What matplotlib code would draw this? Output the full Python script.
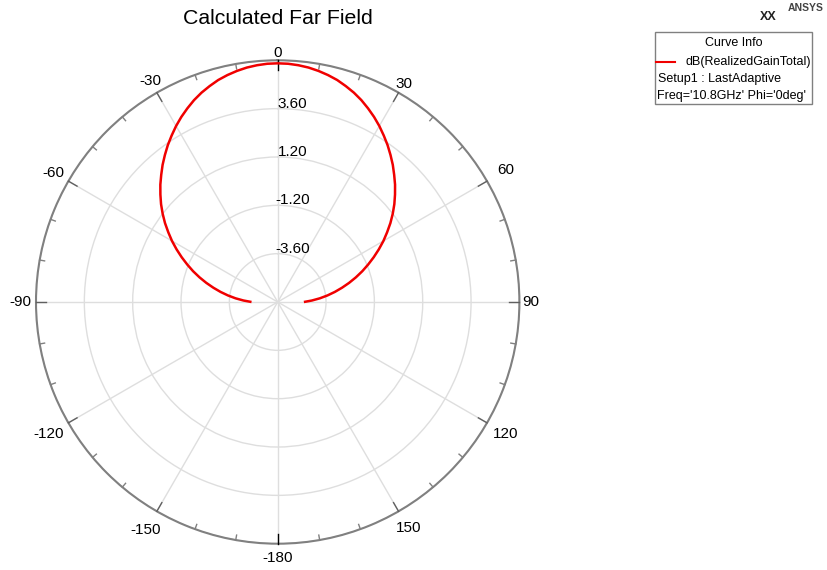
import numpy as np
import matplotlib.pyplot as plt
from matplotlib.patches import Rectangle
from matplotlib.lines import Line2D

plt.rcParams['font.family'] = ['Liberation Sans', 'DejaVu Sans']

# Elevation cut of the realized gain (dB), Phi = 0 deg, 2.5 deg steps
theta_half = [0, 2.5, 5, 7.5, 10, 12.5, 15, 17.5, 20, 22.5, 25, 27.5, 30,
              32.5, 35, 37.5, 40, 42.5, 45, 47.5, 50, 52.5, 55, 57.5, 60,
              62.5, 65, 67.5, 70, 72.5, 75, 77.5, 80, 82.5, 85, 87.5, 90]
gain_right = [5.85, 5.84, 5.80, 5.74, 5.65, 5.54, 5.41, 5.24, 5.06, 4.85,
              4.61, 4.36, 4.09, 3.80, 3.51, 3.20, 2.89, 2.56, 2.24, 1.90,
              1.56, 1.20, 0.83, 0.44, 0.06, -0.34, -0.74, -1.14, -1.53,
              -1.93, -2.33, -2.73, -3.12, -3.51, -3.90, -4.30, -4.70]
gain_left = [5.85, 5.84, 5.80, 5.74, 5.65, 5.54, 5.41, 5.24, 5.06, 4.85,
             4.61, 4.36, 4.09, 3.80, 3.51, 3.20, 2.89, 2.56, 2.24, 1.90,
             1.56, 1.20, 0.83, 0.44, 0.06, -0.34, -0.74, -1.14, -1.53,
             -1.93, -2.33, -2.73, -3.12, -3.51, -3.90, -4.30, -4.70]

angle_ticks = [0, 30, 60, 90, 120, 150, 180, 210, 240, 270, 300, 330]
angle_labels = ['0', '30', '60', '90', '120', '150', '-180', '-150', '-120',
                '-90', '-60', '-30']
ring_values = [-3.6, -1.2, 1.2, 3.6, 6.0]
ring_labels = ['-3.60', '-1.20', '1.20', '3.60']
r_min, r_max = -6.0, 6.0

# full sweep from -90 to +90 deg
theta_deg = [-t for t in theta_half[::-1]] + theta_half[1:]
gain_db = gain_left[::-1] + gain_right[1:]

W, H = 827, 570
fig = plt.figure(figsize=(W / 100, H / 100), dpi=100)
fig.patch.set_facecolor('white')

cx, cy, rad = 277.7, 302.0, 241.7
ax = fig.add_axes([(cx - rad) / W, (H - cy - rad) / H, 2 * rad / W, 2 * rad / H],
                  projection='polar')
ax.set_theta_zero_location('N')
ax.set_theta_direction(-1)
ax.set_ylim(r_min, r_max)
ax.set_facecolor('white')

ax.set_xticks(np.deg2rad(angle_ticks))
ax.set_xticklabels([])
ax.set_yticks(ring_values)
ax.set_yticklabels([])
ax.tick_params(length=0)
ax.grid(True, color='#dedede', lw=1.0)
ax.spines['polar'].set_edgecolor('#808080')
ax.spines['polar'].set_linewidth(1.5)

# tick marks on the outer rim, every 10 degrees
px_per_db = rad / (r_max - r_min)
for a in range(0, 360, 10):
    t = np.deg2rad(a)
    if a % 30 == 0:
        length = 10 / px_per_db
        col = 'black' if a in (0, 180) else '#606060'
    else:
        length = 5 / px_per_db
        col = '#808080'
    ax.plot([t, t], [r_max, r_max - length], color=col, lw=1.0,
            clip_on=False, zorder=3)

# angle labels around the rim (outward pad in pixels)
label_pad = [7.5, 10.5, 21.5, 11.6, 21.5, 19.5, 14.3, 21.5, 22.5, 16.0, 17.0, 13.0]
for a, lbl, pad in zip(angle_ticks, angle_labels, label_pad):
    t = np.deg2rad(a)
    dx = pad * np.sin(t) * 0.72
    dy = pad * np.cos(t) * 0.72
    ax.annotate(lbl, xy=(t, r_max), xytext=(dx, dy), textcoords='offset points',
                ha='center', va='center', fontsize=11, color='black',
                annotation_clip=False)

# ring value labels along the 0-degree spoke
for v, lbl in zip(ring_values[:-1], ring_labels):
    ax.annotate(lbl, xy=(0, v), xytext=(15 * 0.72, 5 * 0.72),
                textcoords='offset points', ha='center', va='center',
                fontsize=11, color='black')

ax.plot(np.deg2rad(theta_deg), gain_db, color='#f00000', lw=1.8, zorder=4,
        solid_joinstyle='round', solid_capstyle='butt')

fig.text(cx / W, 1 - 18 / H, 'Calculated Far Field', ha='center', va='center',
         fontsize=15.3, color='black')

# logo
fig.text(768 / W, 1 - 17 / H, 'XX', ha='center', va='center', fontsize=9,
         fontweight='bold', color='#222222')
fig.text(806 / W, 1 - 8 / H, 'ANSYS', ha='center', va='center', fontsize=7.5,
         fontweight='bold', color='#444444')

# curve info box
bx0, by0, bx1, by1 = 655, 32, 812, 104
fig.patches.append(Rectangle((bx0 / W, 1 - by1 / H), (bx1 - bx0) / W,
                             (by1 - by0) / H, transform=fig.transFigure,
                             facecolor='white', edgecolor='#808080', lw=1.0))
fig.text((bx0 + bx1) / 2 / W, 1 - 43 / H, 'Curve Info', ha='center',
         va='center', fontsize=9)
fig.lines.append(Line2D([656 / W, 675 / W], [1 - 62 / H, 1 - 62 / H],
                        transform=fig.transFigure, color='#f00000', lw=1.5))
fig.text(685 / W, 1 - 62 / H, 'dB(RealizedGainTotal)', ha='left', va='center',
         fontsize=9)
fig.text(658 / W, 1 - 79 / H, 'Setup1 : LastAdaptive', ha='left', va='center',
         fontsize=9)
fig.text(657 / W, 1 - 96 / H, "Freq='10.8GHz' Phi='0deg'", ha='left',
         va='center', fontsize=9)

fig.savefig('out.png', dpi=100, facecolor='white')
